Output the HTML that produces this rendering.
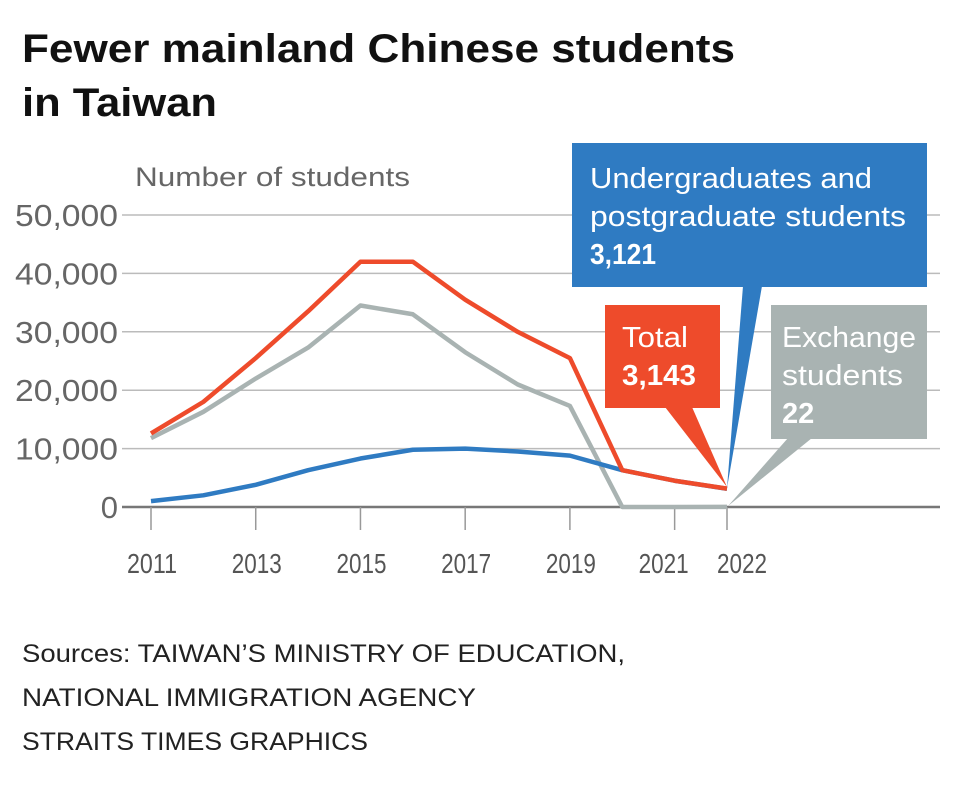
<!DOCTYPE html>
<html><head><meta charset="utf-8"><style>
body{margin:0;background:#fff;}
svg text{font-family:"Liberation Sans",sans-serif;}
</style></head><body>
<svg width="960" height="780" viewBox="0 0 960 780" xmlns="http://www.w3.org/2000/svg">
<text x="22" y="62" font-size="40" font-weight="bold" fill="#111" textLength="713" lengthAdjust="spacingAndGlyphs">Fewer mainland Chinese students</text>
<text x="22" y="116" font-size="40" font-weight="bold" fill="#111" textLength="195" lengthAdjust="spacingAndGlyphs">in Taiwan</text>
<text x="135" y="186" font-size="27" fill="#666" textLength="275" lengthAdjust="spacingAndGlyphs">Number of students</text>
<g id="grid"></g>
<g id="lines"></g>
<g>
<polygon points="743,286 762,286 727,488" fill="#2f7bc2"/>
<rect x="572" y="143" width="355" height="144" fill="#2f7bc2"/>
<text x="590" y="188" font-size="29" fill="#fff" textLength="282" lengthAdjust="spacingAndGlyphs">Undergraduates and</text>
<text x="590" y="226" font-size="29" fill="#fff" textLength="316" lengthAdjust="spacingAndGlyphs">postgraduate students</text>
<text x="590" y="264" font-size="29" font-weight="bold" fill="#fff" textLength="66" lengthAdjust="spacingAndGlyphs">3,121</text>
</g>
<g>
<polygon points="665,407 692,407 727,487" fill="#ee4b2b"/>
<rect x="605" y="305" width="115" height="103" fill="#ee4b2b"/>
<text x="622" y="347" font-size="29" fill="#fff" textLength="66" lengthAdjust="spacingAndGlyphs">Total</text>
<text x="622" y="385" font-size="29" font-weight="bold" fill="#fff" textLength="74" lengthAdjust="spacingAndGlyphs">3,143</text>
</g>
<g>
<polygon points="788,438 812,438 728,506" fill="#a9b3b2"/>
<rect x="771" y="305" width="156" height="134" fill="#a9b3b2"/>
<text x="782" y="347" font-size="29" fill="#fff" textLength="134" lengthAdjust="spacingAndGlyphs">Exchange</text>
<text x="782" y="385" font-size="29" fill="#fff" textLength="121" lengthAdjust="spacingAndGlyphs">students</text>
<text x="782" y="423" font-size="29" font-weight="bold" fill="#fff">22</text>
</g>
<text x="22" y="662" font-size="25" fill="#222" textLength="603" lengthAdjust="spacingAndGlyphs">Sources: TAIWAN’S MINISTRY OF EDUCATION,</text>
<text x="22" y="706" font-size="25" fill="#222" textLength="454" lengthAdjust="spacingAndGlyphs">NATIONAL IMMIGRATION AGENCY</text>
<text x="22" y="750" font-size="25" fill="#222" textLength="346" lengthAdjust="spacingAndGlyphs">STRAITS TIMES GRAPHICS</text>
</svg>
<script>
const years=[2011,2012,2013,2014,2015,2016,2017,2018,2019,2020,2021,2022];
const totalVals=[12600,18000,25500,33500,42000,42000,35500,30000,25500,6300,4500,3143];
const exchangeVals=[11800,16300,22000,27300,34500,33000,26500,21000,17300,0,0,22];
const degreeVals=[1000,2000,3800,6300,8300,9800,10000,9500,8800,6300,4500,3121];
const yTicks=[0,10000,20000,30000,40000,50000];
const yTickLabels=["0","10,000","20,000","30,000","40,000","50,000"];
const xTickYears=[2011,2013,2015,2017,2019,2021,2022];
const NS="http://www.w3.org/2000/svg";
const x=v=>151+(v-2011)*(727-151)/11;
const y=v=>507-v*(507-215)/50000;
function mk(t,a,p){const e=document.createElementNS(NS,t);for(const k in a)e.setAttribute(k,a[k]);p.appendChild(e);return e;}
const grid=document.getElementById('grid');
yTicks.forEach((v,i)=>{
 const l=mk('line',{x1:122,x2:940,y1:y(v),y2:y(v),stroke:v===0?'#777':'#bbb','stroke-width':v===0?2.5:1.5},grid);
 
 
 const a={x:118,y:y(v)+11,'text-anchor':'end','font-size':31,fill:'#666'};
 if(v>0){a.textLength=103;a.lengthAdjust='spacingAndGlyphs';}
 const t=mk('text',a,grid);
 t.textContent=yTickLabels[i];
 
 
});
xTickYears.forEach(yr=>{
 const l=mk('line',{x1:x(yr),x2:x(yr),y1:507,y2:530,stroke:'#999','stroke-width':1.5},grid);
 
 
 const off=yr===2021?-12:(yr===2022?14:0);
 const t=mk('text',{x:x(yr)-24+off,y:573,'font-size':28,fill:'#555',textLength:50,lengthAdjust:'spacingAndGlyphs'},grid);
 t.textContent=yr;
 
 
});
const lines=document.getElementById('lines');
[[exchangeVals,'#a9b3b2','exchange-line'],[degreeVals,'#2f7bc2','degree-line'],[totalVals,'#ee4b2b','total-line']].forEach(([vals,c,n])=>{
 const p=mk('polyline',{points:vals.map((v,i)=>x(years[i])+','+y(v)).join(' '),fill:'none',stroke:c,'stroke-width':4.5,'stroke-linejoin':'round'},lines);
 
 
});
</script>
</body></html>
